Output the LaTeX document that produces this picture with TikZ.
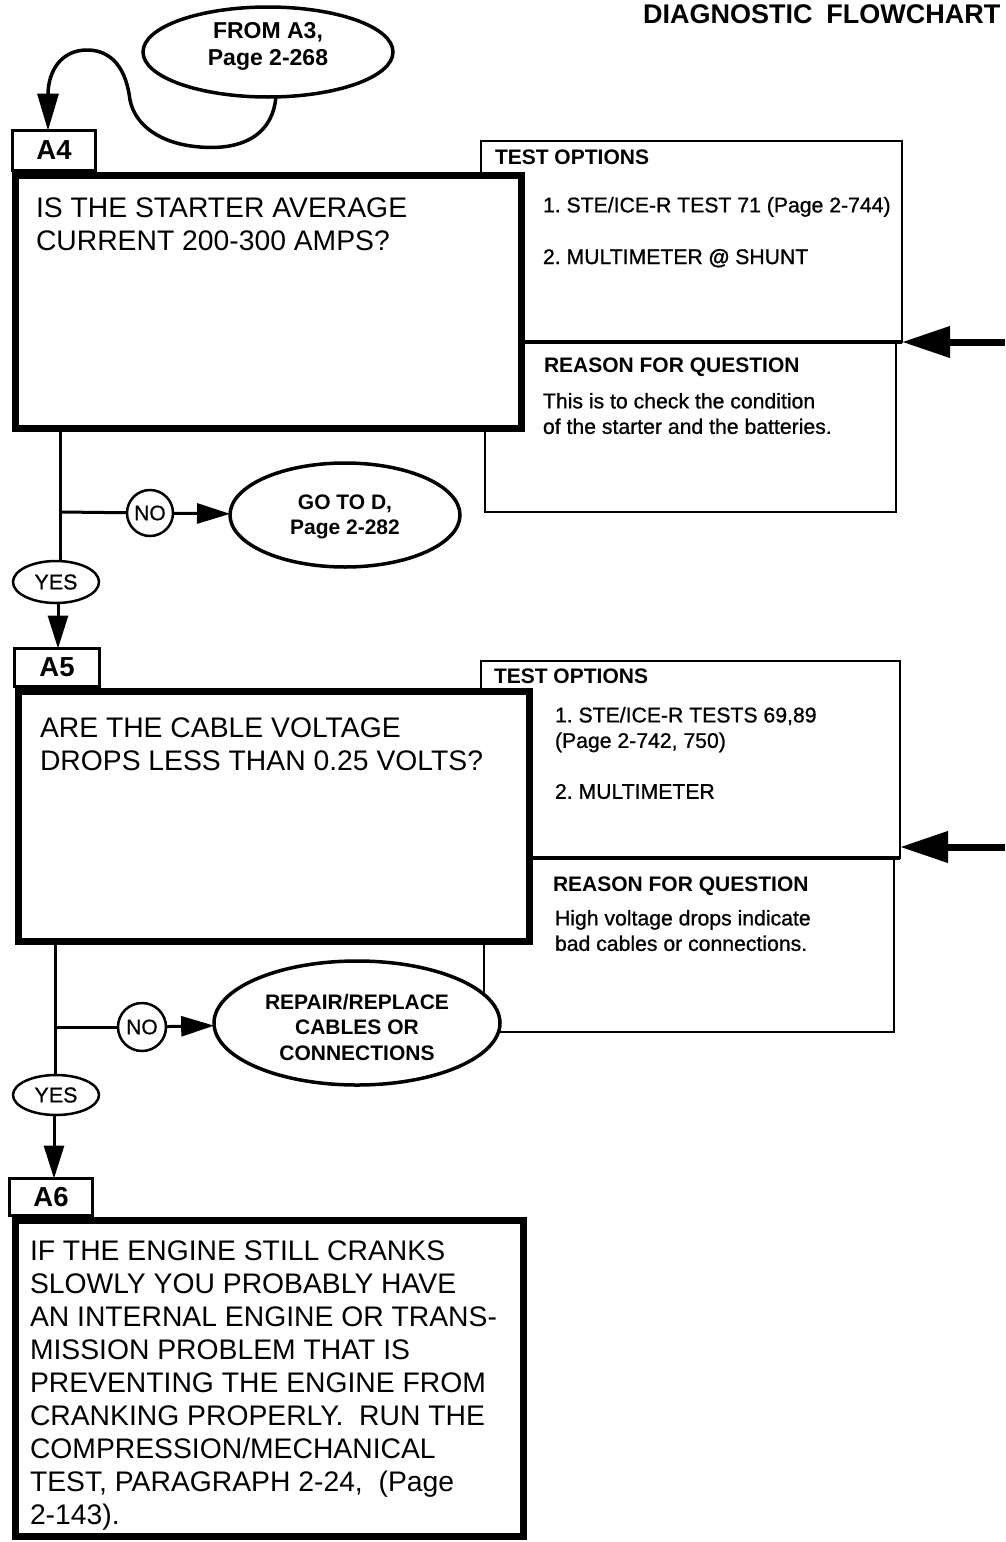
\documentclass[tikz,border=0pt]{standalone}
\usepackage{fontspec}
\setmainfont{Liberation Sans}
\newfontfamily\semib{Liberation Sans}[FakeBold=0.9]
\newfontfamily\ynfont{Liberation Sans}[FakeBold=0.6]
\usetikzlibrary{arrows.meta,shapes.geometric}
\begin{document}
\frenchspacing
\begin{tikzpicture}[x=1pt,y=-1pt,
  every node/.style={outer sep=0pt},
  thinbox/.style={draw,line width=2.5pt,rectangle,inner sep=0pt,anchor=north west},
  mainbox/.style={draw,line width=7pt,fill=white,rectangle,inner sep=0pt,anchor=north west},
  lbl/.style={draw,line width=2.5pt,fill=white,rectangle,inner sep=0pt,font=\bfseries\fontsize{27.5}{30}\selectfont},
  big/.style={anchor=north west,inner sep=0pt,align=left,font=\fontsize{28.3}{33}\selectfont},
  small/.style={anchor=north west,inner sep=0pt,align=left,font=\semib\fontsize{21.2}{25.5}\selectfont},
  head/.style={anchor=north west,inner sep=0pt,font=\bfseries\fontsize{21}{25}\selectfont},
  oval/.style={ellipse,draw,line width=3.5pt,fill=white,inner sep=0pt},
  ovaltxt/.style={align=center,inner sep=0pt,font=\bfseries\fontsize{21}{25.5}\selectfont},
  yn/.style={ellipse,draw,line width=2.5pt,fill=white,inner sep=0pt,font=\ynfont\fontsize{21.5}{21.5}\selectfont},
  nocirc/.style={circle,draw,line width=2.5pt,fill=white,inner sep=0pt,font=\ynfont\fontsize{21}{21}\selectfont},
  conn/.style={line width=3pt},
  tip/.style={-{Triangle[length=33pt,width=20pt]}},
  bigarrow/.style={line width=7pt,-{Triangle[length=48pt,width=30pt]}}
]
\fill[white] (0,0) rectangle (1005,1542);
\useasboundingbox (0,0) rectangle (1005,1542);

% title
\node[anchor=north west,inner sep=0pt,font=\bfseries\fontsize{27}{27}\selectfont] (title) at (643,5) {DIAGNOSTIC\hspace{14pt}FLOWCHART};

% ---------- A4 side boxes
\node[thinbox,minimum width=411pt,minimum height=170pt] (o1low) at (485,342) {};
\node[thinbox,minimum width=421pt,minimum height=201pt] (o1up) at (481,141) {};
\draw[line width=4.5pt] (o1up.south west) -- (o1up.south east);
\coordinate (r1) at (1005,342);
\draw[bigarrow] (r1) -- (o1up.south east);

% ---------- A5 side boxes
\node[thinbox,minimum width=410pt,minimum height=174pt] (o2low) at (484,858) {};
\node[thinbox,minimum width=419pt,minimum height=197pt] (o2up) at (481,661) {};
\draw[line width=4.5pt] (o2up.south west) -- (o2up.south east);
\coordinate (r2) at (1005,847);
\draw[bigarrow] (r2) -- (r2 -| o2up.east);

% ---------- labels
\node[lbl,minimum width=83pt,minimum height=40pt] (a4lab) at (54,150.5) {A4};
\node[lbl,minimum width=85pt,minimum height=38pt] (a5lab) at (57,667.5) {A5};
\node[lbl,minimum width=83pt,minimum height=37pt] (a6lab) at (51,1197) {A6};

% ---------- main boxes
\node[mainbox,minimum width=506pt,minimum height=253pt] (a4box) at (15.5,175.5) {};
\node[mainbox,minimum width=511pt,minimum height=250pt] (a5box) at (18.5,691.5) {};
\node[mainbox,minimum width=508pt,minimum height=316pt] (a6box) at (15.5,1220.5) {};

% ---------- texts
\node[big] (a4txt) at (36,198) {IS THE STARTER AVERAGE\\CURRENT 200-300 AMPS?};
\node[big] (a5txt) at (40,718) {ARE THE CABLE VOLTAGE\\DROPS LESS THAN 0.25 VOLTS?};
\node[big] (a6txt) at (30,1241) {IF THE ENGINE STILL CRANKS\\SLOWLY YOU PROBABLY HAVE\\AN INTERNAL ENGINE OR TRANS-\\MISSION PROBLEM THAT IS\\PREVENTING THE ENGINE FROM\\CRANKING PROPERLY.\ \ RUN THE\\COMPRESSION/MECHANICAL\\TEST, PARAGRAPH 2-24,\ \ (Page\\2-143).};

\node[head] (t1h) at (495,150) {TEST OPTIONS};
\node[small] (t1a) at (543,197) {1. STE/ICE-R TEST 71 (Page 2-744)};
\node[small] (t1b) at (543,249) {2. MULTIMETER \textbf{@} SHUNT};
\node[head] (q1h) at (544,358) {REASON FOR QUESTION};
\node[small] (q1t) at (543,393) {This is to check the condition\\of the starter and the batteries.};

\node[head] (t2h) at (494,669) {TEST OPTIONS};
\node[small] (t2a) at (555,707) {1. STE/ICE-R TESTS 69,89\\(Page 2-742, 750)};
\node[small] (t2b) at (555,784) {2. MULTIMETER};
\node[head] (q2h) at (553,877) {REASON FOR QUESTION};
\node[small] (q2t) at (555,910) {High voltage drops indicate\\bad cables or connections.};

% ---------- ovals
\node[oval,minimum width=250pt,minimum height=90pt] (from) at (268,52) {};
\node[ovaltxt,font=\bfseries\fontsize{23}{27}\selectfont] (fromtxt) at (268,46) {FROM A3,\\Page 2-268};
\node[oval,minimum width=230pt,minimum height=104pt] (goto) at (345,515) {};
\node[ovaltxt] (gototxt) at (345,517) {GO TO D,\\Page 2-282};
\node[oval,minimum width=286pt,minimum height=124pt] (repair) at (357,1023) {};
\node[ovaltxt] (repairtxt) at (357,1027) {REPAIR/REPLACE\\CABLES OR\\CONNECTIONS};

\node[yn,minimum width=86pt,minimum height=42pt] (yes1) at (56,582) {YES};
\node[yn,minimum width=86pt,minimum height=40pt] (yes2) at (56,1095) {YES};
\node[nocirc,minimum size=46pt] (no1) at (150,513) {NO};
\node[nocirc,minimum size=48pt] (no2) at (142,1027) {NO};

% ---------- connectors
\draw[line width=3.5pt,-{Triangle[length=37pt,width=21pt]}]
  (from.280) .. controls (272,140) and (235,150) .. (200,147)
  .. controls (160,144) and (135,125) .. (130,100)
  .. controls (125,60) and (105,50) .. (87,50)
  .. controls (62,50) and (48,70) .. (48,95)
  -- ([xshift=-6pt]a4lab.north);

\coordinate (j1) at (60,512);
\draw[conn] (a4box.south -| j1) -- (j1 |- yes1.north);
\draw[conn] (j1) -- (no1);
\draw[conn,tip] (no1) -- (goto);
\draw[conn,tip] ([xshift=2pt]yes1.south) -- ([xshift=2pt]yes1.south |- a5lab.north);

\coordinate (j2) at (55,1027);
\draw[conn] (a5box.south -| j2) -- (j2 |- yes2.north);
\draw[conn] (j2) -- (no2);
\draw[conn,tip] (no2) -- (repair);
\draw[conn,tip] ([xshift=-2pt]yes2.south) -- ([xshift=-2pt]yes2.south |- a6lab.north);
\end{tikzpicture}
\end{document}
